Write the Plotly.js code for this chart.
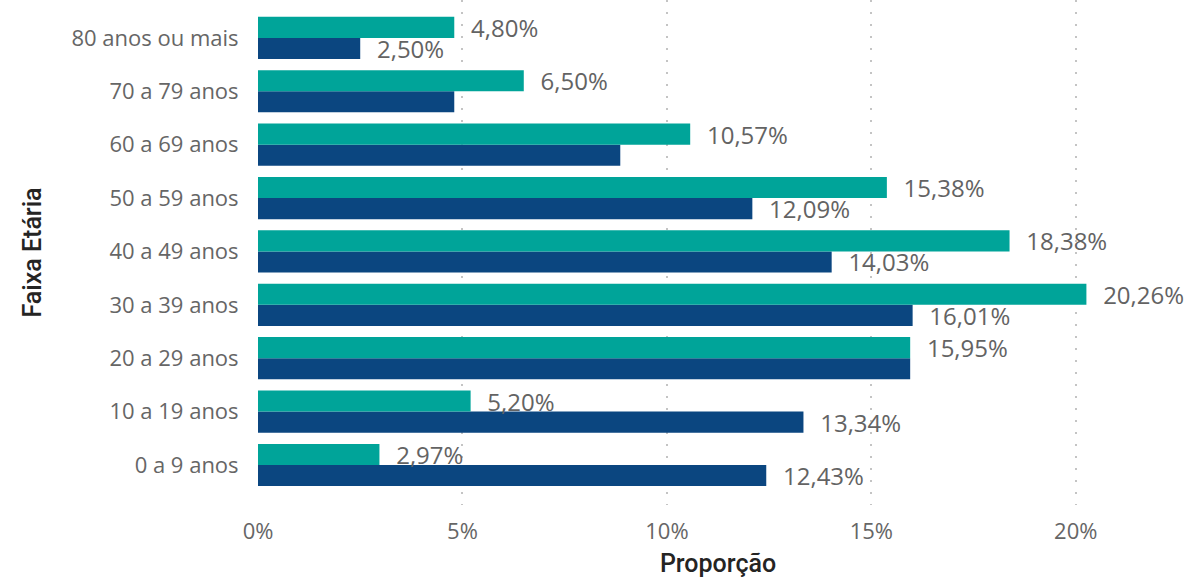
<!DOCTYPE html>
<html>
<head>
<meta charset="utf-8">
<script src="https://cdn.plot.ly/plotly-3.0.1.min.js"></script>
<style>
  html, body { margin: 0; padding: 0; background: #fff; }
  #chart { width: 1189px; height: 581px; }
</style>
</head>
<body>
<div id="chart"></div>
<script>
// faixas etárias, de baixo para cima
const faixas = ['0 a 9 anos', '10 a 19 anos', '20 a 29 anos', '30 a 39 anos', '40 a 49 anos',
  '50 a 59 anos', '60 a 69 anos', '70 a 79 anos', '80 anos ou mais']
const serieVerde = [2.97, 5.20, 15.95, 20.26, 18.38, 15.38, 10.57, 6.50, 4.80]
const serieAzul = [12.43, 13.34, 15.95, 16.01, 14.03, 12.09, 8.86, 4.80, 2.50]
// rótulos do azul que ficam ocultos (sobreposição)
const azulSemRotulo = ['20 a 29 anos', '60 a 69 anos', '70 a 79 anos']
const xTicks = [0, 5, 10, 15, 20]

const fmt = v => '\u2007' + v.toFixed(2).replace('.', ',') + '%'

const labelFont = { family: 'Open Sans', size: 24, color: '#636363' }
const titleFont = { family: 'Roboto', size: 25, weight: 500, color: '#252423' }

const azul = {
  type: 'bar',
  orientation: 'h',
  y: faixas,
  x: serieAzul,
  name: 'Azul',
  marker: { color: '#0B4680' },
  text: serieAzul.map((v, i) => azulSemRotulo.includes(faixas[i]) ? '' : fmt(v)),
  textposition: 'outside',
  textfont: labelFont,
  constraintext: 'none',
  cliponaxis: false,
  hoverinfo: 'y+x'
}

const verde = {
  type: 'bar',
  orientation: 'h',
  y: faixas,
  x: serieVerde,
  name: 'Verde',
  marker: { color: '#00A499' },
  text: serieVerde.map(fmt),
  textposition: 'outside',
  textfont: labelFont,
  constraintext: 'none',
  cliponaxis: false,
  hoverinfo: 'y+x'
}

const layout = {
  barmode: 'group',
  bargap: 0.21,
  bargroupgap: 0,
  showlegend: false,
  font: { family: 'Open Sans', color: '#666666' },
  xaxis: {
    range: [0, 22.5],
    tickvals: xTicks,
    ticktext: xTicks.map(t => t + '%'),
    tickfont: { size: 22, color: '#666666' },
    showgrid: true,
    gridcolor: '#c4c4c4',
    griddash: '2px,10px',
    gridwidth: 1.5,
    zeroline: false,
    ticks: 'outside',
    ticklen: 7,
    tickcolor: 'rgba(0,0,0,0)',
    title: {
      text: 'Proporção',
      font: titleFont,
      standoff: 10
    }
  },
  yaxis: {
    range: [-0.75, 8.71],
    tickfont: { size: 22, color: '#666666' },
    showgrid: false,
    zeroline: false,
    ticks: 'outside',
    ticklen: 14,
    tickcolor: 'rgba(0,0,0,0)',
    title: {
      text: 'Faixa Etária',
      font: titleFont,
      standoff: 22
    }
  },
  margin: { l: 258, r: 11, t: 0, b: 76 },
  paper_bgcolor: '#ffffff',
  plot_bgcolor: '#ffffff'
}

Plotly.newPlot('chart', [azul, verde], layout, { displayModeBar: false })
</script>
</body>
</html>
